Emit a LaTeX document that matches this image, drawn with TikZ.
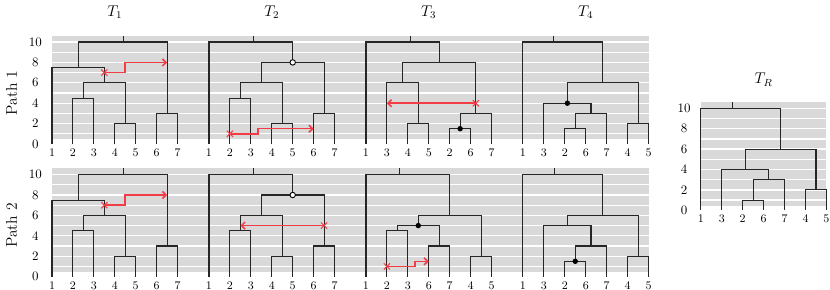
\documentclass[tikz,border=0pt]{standalone}
\usepackage{tikz}
\usetikzlibrary{arrows.meta,shapes.misc}
\definecolor{movered}{RGB}{242,60,70}
\tikzset{
  plotbg/.style={fill=black!15},
  gridline/.style={draw=white, line width=1pt},
  treeline/.style={draw=black!85, line width=0.85pt},
  movearrow/.style={draw=movered, line width=1.2pt, -{Straight Barb[length=2.8pt,width=5.5pt]}},
  cutmark/.style={cross out, draw=movered, line width=0.8pt, minimum size=4pt, inner sep=0pt},
  rankdot/.style={circle, fill=black, inner sep=0pt, minimum size=4.2pt},
  opendot/.style={circle, draw=black, fill=white, line width=0.7pt, inner sep=0pt, minimum size=4.2pt},
  leaflabel/.style={font=\small, inner sep=0pt},
  ticklabel/.style={font=\normalsize, inner sep=0pt},
  treetitle/.style={font=\large},
  pathlabel/.style={font=\large, rotate=90},
}

\begin{document}
\begin{tikzpicture}[x=0.5693cm, y=0.2774cm]
  \useasboundingbox (-2.4845,-14.31) rectangle (37.17,14.12);
  % plot backgrounds of the two paths
  \foreach \row/\sh in {1/0,2/-13} {
    \fill[plotbg] (0,\sh+0.45) rectangle (28.5,\sh+10.6);
    \foreach \v in {1,...,10} \draw[gridline] (0,\sh+\v) -- (28.5,\sh+\v);
    \foreach \v in {0,2,...,10} \node[ticklabel] (tick\row-\v) at (-0.8,\sh+\v) {\v};
    \node[pathlabel] (path\row) at (-1.93,\sh+5) {Path \row};
  }
  % T1 and T2 are the same in both paths
  \foreach \row/\sh in {1/0,2/-13} {
    \begin{scope}[shift={(0,\sh)}, name prefix=p\row t1-]
      \foreach \lab [count=\i from 0] in {1,...,7} {
        \coordinate (l\i) at (\i,0);
        \node[leaflabel] (n\i) at (\i,-0.85) {\lab};
      }
      \coordinate (a) at (1.5,4.5);
      \coordinate (b) at (3.5,2);
      \coordinate (c) at (5.5,3);
      \coordinate (d) at (2.5,6);
      \coordinate (e) at (1.25,7.5);
      \coordinate (r) at (3.375,10);
      \coordinate (top) at (3.4,10.6);
      \draw[treeline] (a) -| (l1) (a) -| (l2) (b) -| (l3) (b) -| (l4) (c) -| (l5) (c) -| (l6)
        (d) -| (a) (d) -| (b) (e) -| (l0) (e) -| (d) (r) -| (e) (r) -| (c) (top) -- (top |- r);
      \node[cutmark] (cut) at (2.5,7) {};
      \coordinate (hit) at (5.5,8);
      \draw[movearrow] (cut.center) -- ++(1,0) |- (hit);
    \end{scope}
    \begin{scope}[shift={(7.5,\sh)}, name prefix=p\row t2-]
      \foreach \lab [count=\i from 0] in {1,...,7} {
        \coordinate (l\i) at (\i,0);
        \node[leaflabel] (n\i) at (\i,-0.85) {\lab};
      }
      \coordinate (a) at (1.5,4.5);
      \coordinate (b) at (3.5,2);
      \coordinate (c) at (5.5,3);
      \coordinate (d) at (2.5,6);
      \coordinate (e) at (4,8);
      \coordinate (r) at (2,10);
      \coordinate (top) at (2.13,10.6);
      \draw[treeline] (a) -| (l1) (a) -| (l2) (b) -| (l3) (b) -| (l4) (c) -| (l5) (c) -| (l6)
        (d) -| (a) (d) -| (b) (e) -| (d) (e) -| (c) (r) -| (l0) (r) -| (e) (top) -- (top |- r);
      \node[opendot] (mark) at (e) {};
    \end{scope}
  }
  \node[treetitle] (title1) at (3,12.9) {$T_1$};
  \node[treetitle] (title2) at (10.5,12.9) {$T_2$};
  \node[treetitle] (title3) at (18,12.9) {$T_3$};
  \node[treetitle] (title4) at (25.5,12.9) {$T_4$};
  % moves in T2
  \begin{scope}[shift={(7.5,0)}, name prefix=p1t2-]
    \node[cutmark] (cut) at (1,1) {};
    \coordinate (hit) at (5,1.5);
    \draw[movearrow] (cut.center) -- ++(1.35,0) |- (hit);
  \end{scope}
  \begin{scope}[shift={(7.5,-13)}, name prefix=p2t2-]
    \node[cutmark] (cut) at (5.5,5) {};
    \coordinate (hit) at (1.5,5);
    \draw[movearrow] (cut.center) -- (hit);
  \end{scope}
  % path 1: T3 and T4
  \begin{scope}[shift={(15,0)}, name prefix=p1t3-]
    \foreach \lab [count=\i from 0] in {1,3,4,5,2,6,7} {
      \coordinate (l\i) at (\i,0);
      \node[leaflabel] (n\i) at (\i,-0.85) {\lab};
    }
    \coordinate (a) at (2.5,2);
    \coordinate (b) at (4.5,1.5);
    \coordinate (c) at (5.25,3);
    \coordinate (d) at (1.75,6);
    \coordinate (e) at (3.5,8);
    \coordinate (r) at (1.75,10);
    \coordinate (top) at (2.12,10.6);
    \draw[treeline] (a) -| (l2) (a) -| (l3) (b) -| (l4) (b) -| (l5) (c) -| (b) (c) -| (l6)
      (d) -| (l1) (d) -| (a) (e) -| (d) (e) -| (c) (r) -| (l0) (r) -| (e) (top) -- (top |- r);
    \node[rankdot] (mark) at (b) {};
    \node[cutmark] (cut) at (5.25,4) {};
    \coordinate (hit) at (1,4);
    \draw[movearrow] (cut.center) -- (hit);
  \end{scope}
  \begin{scope}[shift={(22.5,0)}, name prefix=p1t4-]
    \foreach \lab [count=\i from 0] in {1,3,2,6,7,4,5} {
      \coordinate (l\i) at (\i,0);
      \node[leaflabel] (n\i) at (\i,-0.85) {\lab};
    }
    \coordinate (a) at (2.5,1.5);
    \coordinate (b) at (3.25,3);
    \coordinate (c) at (2.125,4);
    \coordinate (f) at (5.5,2);
    \coordinate (e) at (3.8125,6);
    \coordinate (r) at (1.906,10);
    \coordinate (top) at (1.48,10.6);
    \draw[treeline] (a) -| (l2) (a) -| (l3) (b) -| (a) (b) -| (l4) (c) -| (l1) (c) -| (b)
      (f) -| (l5) (f) -| (l6) (e) -| (c) (e) -| (f) (r) -| (l0) (r) -| (e) (top) -- (top |- r);
    \node[rankdot] (mark) at (c) {};
  \end{scope}
  % path 2: T3 and T4
  \begin{scope}[shift={(15,-13)}, name prefix=p2t3-]
    \foreach \lab [count=\i from 0] in {1,2,3,6,7,4,5} {
      \coordinate (l\i) at (\i,0);
      \node[leaflabel] (n\i) at (\i,-0.85) {\lab};
    }
    \coordinate (a) at (1.5,4.5);
    \coordinate (b) at (3.5,3);
    \coordinate (c) at (2.5,5);
    \coordinate (f) at (5.5,2);
    \coordinate (e) at (4,6);
    \coordinate (r) at (2,10);
    \coordinate (top) at (1.62,10.6);
    \draw[treeline] (a) -| (l1) (a) -| (l2) (b) -| (l3) (b) -| (l4) (c) -| (a) (c) -| (b)
      (f) -| (l5) (f) -| (l6) (e) -| (c) (e) -| (f) (r) -| (l0) (r) -| (e) (top) -- (top |- r);
    \node[rankdot] (mark) at (c) {};
    \node[cutmark] (cut) at (1,1) {};
    \coordinate (hit) at (3,1.5);
    \draw[movearrow] (cut.center) -- ++(1.35,0) |- (hit);
  \end{scope}
  \begin{scope}[shift={(22.5,-13)}, name prefix=p2t4-]
    \foreach \lab [count=\i from 0] in {1,3,2,6,7,4,5} {
      \coordinate (l\i) at (\i,0);
      \node[leaflabel] (n\i) at (\i,-0.85) {\lab};
    }
    \coordinate (a) at (2.5,1.5);
    \coordinate (b) at (3.25,3);
    \coordinate (c) at (2.125,5);
    \coordinate (f) at (5.5,2);
    \coordinate (e) at (3.8125,6);
    \coordinate (r) at (1.906,10);
    \coordinate (top) at (1.51,10.6);
    \draw[treeline] (a) -| (l2) (a) -| (l3) (b) -| (a) (b) -| (l4) (c) -| (l1) (c) -| (b)
      (f) -| (l5) (f) -| (l6) (e) -| (c) (e) -| (f) (r) -| (l0) (r) -| (e) (top) -- (top |- r);
    \node[rankdot] (mark) at (a) {};
  \end{scope}
  % target tree
  \begin{scope}[shift={(31,-6.5)}, name prefix=tr-]
    \fill[plotbg] (0,0.45) rectangle (6,10.6);
    \foreach \v in {1,...,10} \draw[gridline] (0,\v) -- (6,\v);
    \foreach \v in {0,2,...,10} \node[ticklabel] (tick\v) at (-0.8,\v) {\v};
    \foreach \lab [count=\i from 0] in {1,3,2,6,7,4,5} {
      \coordinate (l\i) at (\i,0);
      \node[leaflabel] (n\i) at (\i,-0.85) {\lab};
    }
    \coordinate (a) at (2.5,1);
    \coordinate (b) at (3.25,3);
    \coordinate (c) at (2.125,4);
    \coordinate (f) at (5.5,2);
    \coordinate (e) at (3.8125,6);
    \coordinate (r) at (1.906,10);
    \coordinate (top) at (1.53,10.6);
    \draw[treeline] (a) -| (l2) (a) -| (l3) (b) -| (a) (b) -| (l4) (c) -| (l1) (c) -| (b)
      (f) -| (l5) (f) -| (l6) (e) -| (c) (e) -| (f) (r) -| (l0) (r) -| (e) (top) -- (top |- r);
    \node[treetitle] (title) at (3,12.8) {$T_R$};
  \end{scope}
\end{tikzpicture}
\end{document}
